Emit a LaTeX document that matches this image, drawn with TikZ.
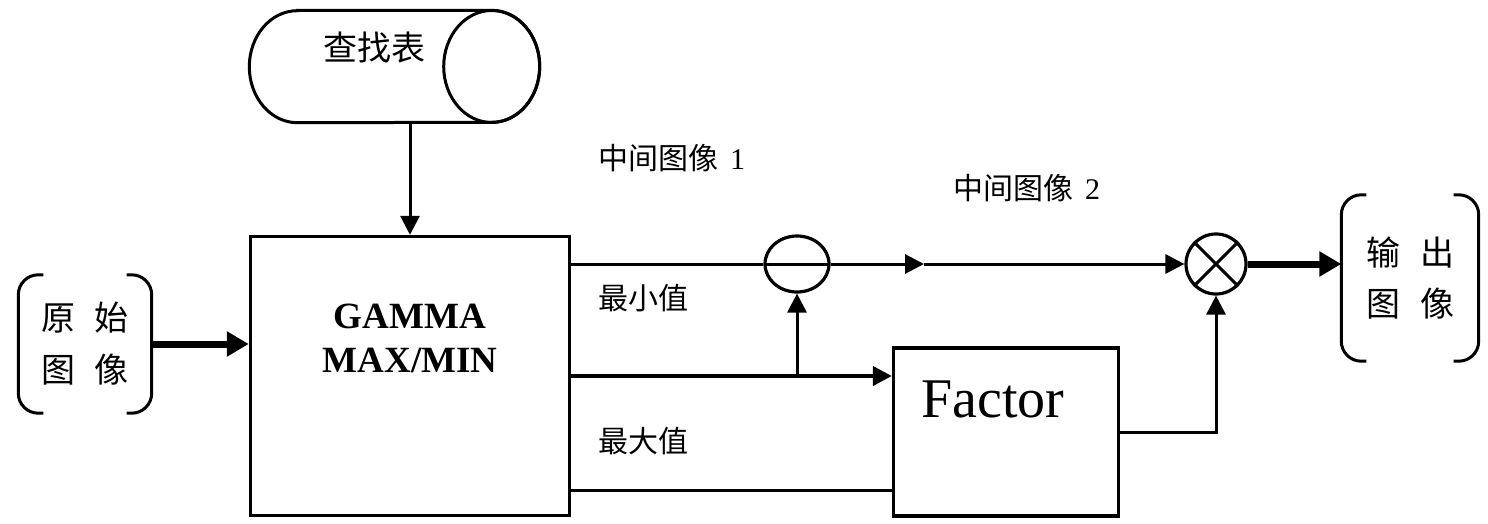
\documentclass[tikz,border=0pt]{standalone}
\usepackage{fontspec}
\setmainfont{Liberation Serif}
\newfontfamily\cjk{Noto Sans CJK SC}
\usepackage{tikz}
\usetikzlibrary{arrows.meta,shapes.geometric,calc}

\tikzset{
  wire/.style={line width=3pt},
  bus/.style={line width=4.2pt},
  fat/.style={line width=7pt},
  tip/.style={-{Triangle[length=19pt,width=19pt]}},
  fattip/.style={-{Triangle[length=22pt,width=24pt]}},
  block/.style={draw,line width=3.4pt,inner sep=0pt},
  bracket/.style={line width=3pt,rounded corners=20pt},
  lbl/.style={font=\fontsize{30}{32}\selectfont\cjk,inner sep=0pt,anchor=west},
}

\begin{document}
\begin{tikzpicture}[x=1pt,y=-1pt]
\useasboundingbox (0,0) rectangle (1488,524);
% lookup table and main block
\node[minimum width=290pt,minimum height=112pt,inner sep=0pt] (lut) at (394.5,66.5) {};
\draw[line width=3pt] ([xshift=48pt]lut.north west) -- ([xshift=-48pt]lut.north east)
  arc[start angle=90,end angle=-90,x radius=48pt,y radius=56pt] -- ([xshift=48pt]lut.south west)
  arc[start angle=270,end angle=90,x radius=48pt,y radius=56pt] -- cycle;
\draw[line width=3pt] ([xshift=-48pt]lut.east) ellipse[x radius=48pt,y radius=56pt];
\node[font=\fontsize{34}{36}\selectfont\cjk] (luttext) at (374,48) {查找表};
\node[block,minimum width=319pt,minimum height=279pt] (main) at (410,376) {};
\node[font=\bfseries\fontsize{37}{44}\selectfont,align=center] (gamma) at (410,338) {GAMMA\\MAX/MIN};
% input and output images
\node[font=\fontsize{34}{52}\selectfont\cjk,align=center,minimum width=133pt,minimum height=138pt,inner sep=0pt] (src) at (85,344) {原\hspace{20pt}始\\图\hspace{20pt}像};
\node[font=\fontsize{34}{51}\selectfont\cjk,align=center,minimum width=137pt,minimum height=166pt,inner sep=0pt] (dst) at (1410,278) {输\hspace{20pt}出\\图\hspace{20pt}像};
\foreach \n in {src,dst} {
  \draw[bracket] ([xshift=25pt]\n.north west) -- (\n.north west) -- (\n.south west) -- ([xshift=25pt]\n.south west);
  \draw[bracket] ([xshift=-25pt]\n.north east) -- (\n.north east) -- (\n.south east) -- ([xshift=-25pt]\n.south east);
}
% operators and factor
\node[draw,ellipse,line width=3.2pt,minimum width=64pt,minimum height=56pt,inner sep=0pt,
      path picture={\draw[wire] (path picture bounding box.west) -- (path picture bounding box.east);}] (minus) at (797,264) {};
\node[draw,circle,line width=3.2pt,minimum size=60pt,inner sep=0pt] (cross) at (1216,264) {};
\draw[wire] (cross.45) -- (cross.225) (cross.135) -- (cross.315);
\node[block,minimum width=225pt,minimum height=168pt] (factor) at (1006,432) {};
\node[font=\fontsize{56}{60}\selectfont,anchor=base] (factortext) at (993,417) {Factor};
% labels
\node[lbl] (mid1) at (598,158) {中间图像\hspace{12pt}{\rmfamily 1}};
\node[lbl] (mid2) at (953,188) {中间图像\hspace{12pt}{\rmfamily 2}};
\node[lbl] (minlab) at (598,298) {最小值};
\node[lbl] (maxlab) at (598,441) {最大值};
% connectors
\draw[wire,tip] (lut.south -| main.north) -- (main.north);
\draw[fat,fattip] (src.east) -- (src.east -| main.west);
\draw[wire] (main.east |- minus.west) -- (minus.west);
\coordinate (mid) at (924,264);
\draw[wire,tip] (minus.east) -- (mid);
\draw[wire,tip] (mid) -- (cross.west);
\draw[bus,tip] (main.east) -- (main.east -| factor.west);
\coordinate (split) at (minus.south |- main.east);
\draw[wire,tip] (split) -- (minus.south);
\coordinate (low) at ([yshift=27pt]main.south east);
\draw[wire] (low) -- (low -| factor.west);
\draw[wire,tip] (factor.east) -| (cross.south);
\draw[fat,fattip] (cross.east) -- (cross.east -| dst.west);
\end{tikzpicture}
\end{document}
